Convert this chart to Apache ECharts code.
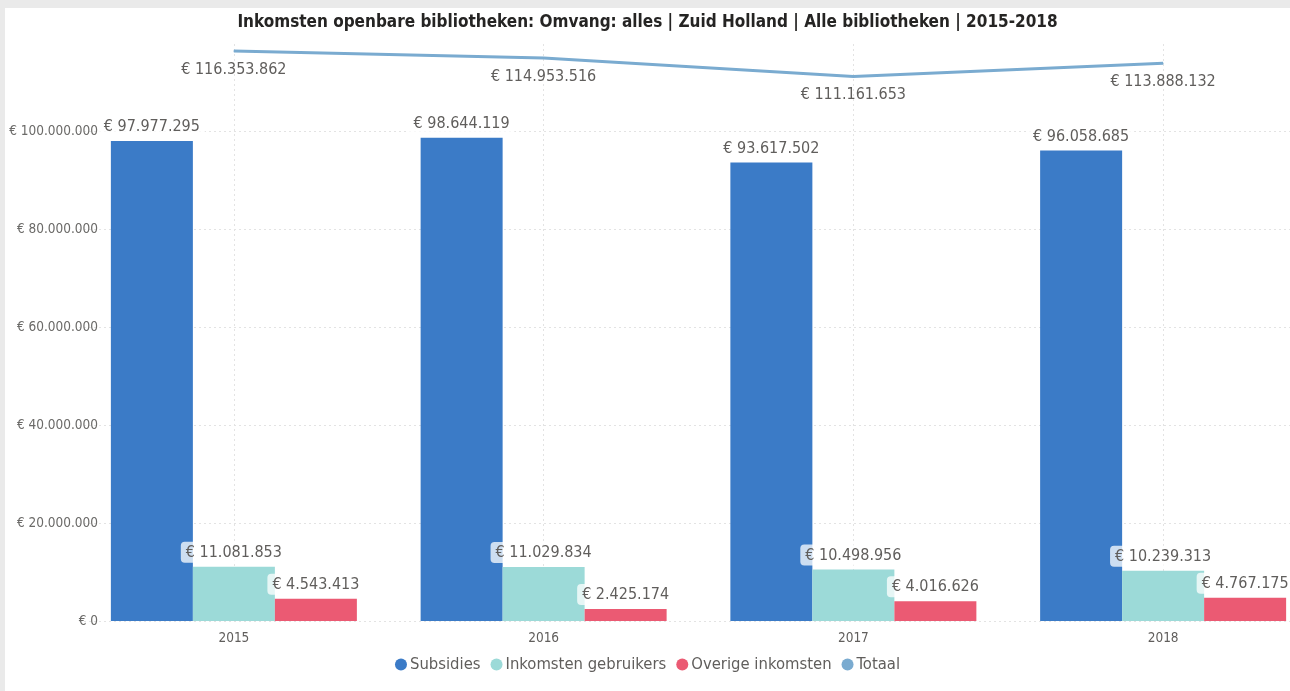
<!DOCTYPE html>
<html lang="nl">
<head>
  <meta charset="UTF-8">
  <title>Inkomsten openbare bibliotheken</title>
  <script src="https://cdn.jsdelivr.net/npm/echarts@6/dist/echarts.min.js"></script>
  <style>
    html, body { margin: 0; padding: 0; background: #eaeaea; overflow: hidden; }
    #chart { position: absolute; left: 5px; top: 8px; width: 1285px; height: 683px; background: #fff; }
  </style>
</head>
<body>
  <div id="chart"></div>
  <script>
    // data
    const years = ['2015', '2016', '2017', '2018']
    const subsidies = [97977295, 98644119, 93617502, 96058685]
    const gebruikers = [11081853, 11029834, 10498956, 10239313]
    const overige = [4543413, 2425174, 4016626, 4767175]
    const totaal = [116353862, 114953516, 111161653, 113888132]

    const font = "'DejaVu Sans Condensed', 'Liberation Sans Narrow', Roboto, sans-serif"
    const grey = '#605e5c'

    // € 1.234.567
    function euro(v) {
      return '€ ' + String(Math.round(v)).replace(/\B(?=(\d{3})+(?!\d))/g, '.')
    }

    const barLabel = {
      show: true,
      position: 'top',
      distance: 4,
      color: grey,
      fontFamily: font,
      fontSize: 16,
      backgroundColor: 'rgba(255,255,255,0.75)',
      borderRadius: 4,
      padding: [3, 5, 2, 5],
      formatter: p => euro(p.value)
    }

    const myChart = echarts.init(document.getElementById('chart'))
    const option = {
      animation: false,
      color: ['#3b7bc7', '#9cdad8', '#eb5a73', '#7aabd0'],
      title: {
        text: 'Inkomsten openbare bibliotheken: Omvang: alles | Zuid Holland | Alle bibliotheken | 2015-2018',
        left: 'center',
        top: 1,
        textStyle: { color: '#252423', fontFamily: font, fontSize: 17, fontWeight: 'bold' }
      },
      legend: {
        bottom: 13,
        left: 'center',
        icon: 'circle',
        itemWidth: 12,
        itemHeight: 12,
        itemGap: 10,
        textStyle: { color: grey, fontFamily: font, fontSize: 16.5, padding: [0, 0, 0, -2] },
        data: ['Subsidies', 'Inkomsten gebruikers', 'Overige inkomsten', 'Totaal']
      },
      grid: { left: 74, right: -28, top: 35, bottom: 70, outerBoundsMode: 'none', containLabel: false },
      xAxis: {
        type: 'category',
        data: years,
        axisLine: { show: false },
        axisTick: { show: false },
        axisLabel: { color: grey, fontFamily: font, fontSize: 13.5, margin: 10 }
      },
      yAxis: {
        type: 'value',
        min: 0,
        max: 118000000,
        interval: 20000000,
        axisLabel: {
          color: '#6b6a68', fontFamily: font, fontSize: 13.5, margin: -19,
          showMaxLabel: false,
          formatter: v => euro(v)
        },
        splitLine: {
          showMaxLine: false,
          lineStyle: { color: '#e3e3e3', type: [2, 3], width: 1 }
        }
      },
      series: [
        {
          name: 'Subsidies',
          type: 'bar',
          data: subsidies,
          barWidth: 82,
          barGap: '0%',
          label: barLabel
        },
        {
          name: 'Inkomsten gebruikers',
          type: 'bar',
          data: gebruikers,
          barWidth: 82,
          barGap: '0%',
          label: barLabel
        },
        {
          name: 'Overige inkomsten',
          type: 'bar',
          data: overige,
          barWidth: 82,
          barGap: '0%',
          label: barLabel
        },
        {
          name: 'Totaal',
          type: 'line',
          data: totaal,
          symbol: 'circle',
          symbolSize: 1,
          showSymbol: true,
          lineStyle: { width: 3, color: '#7aabd0' },
          label: {
            show: true,
            position: 'bottom',
            distance: 10,
            color: grey,
            fontFamily: font,
            fontSize: 16,
            formatter: p => euro(p.value)
          },
          // vertical dotted lines through the category centres
          markLine: {
            z: 1,
            silent: true,
            symbol: 'none',
            label: { show: false },
            lineStyle: { color: '#e3e3e3', type: [2, 3], width: 1 },
            data: years.map(y => ({ xAxis: y }))
          }
        }
      ]
    }
    myChart.setOption(option)
  </script>
</body>
</html>
